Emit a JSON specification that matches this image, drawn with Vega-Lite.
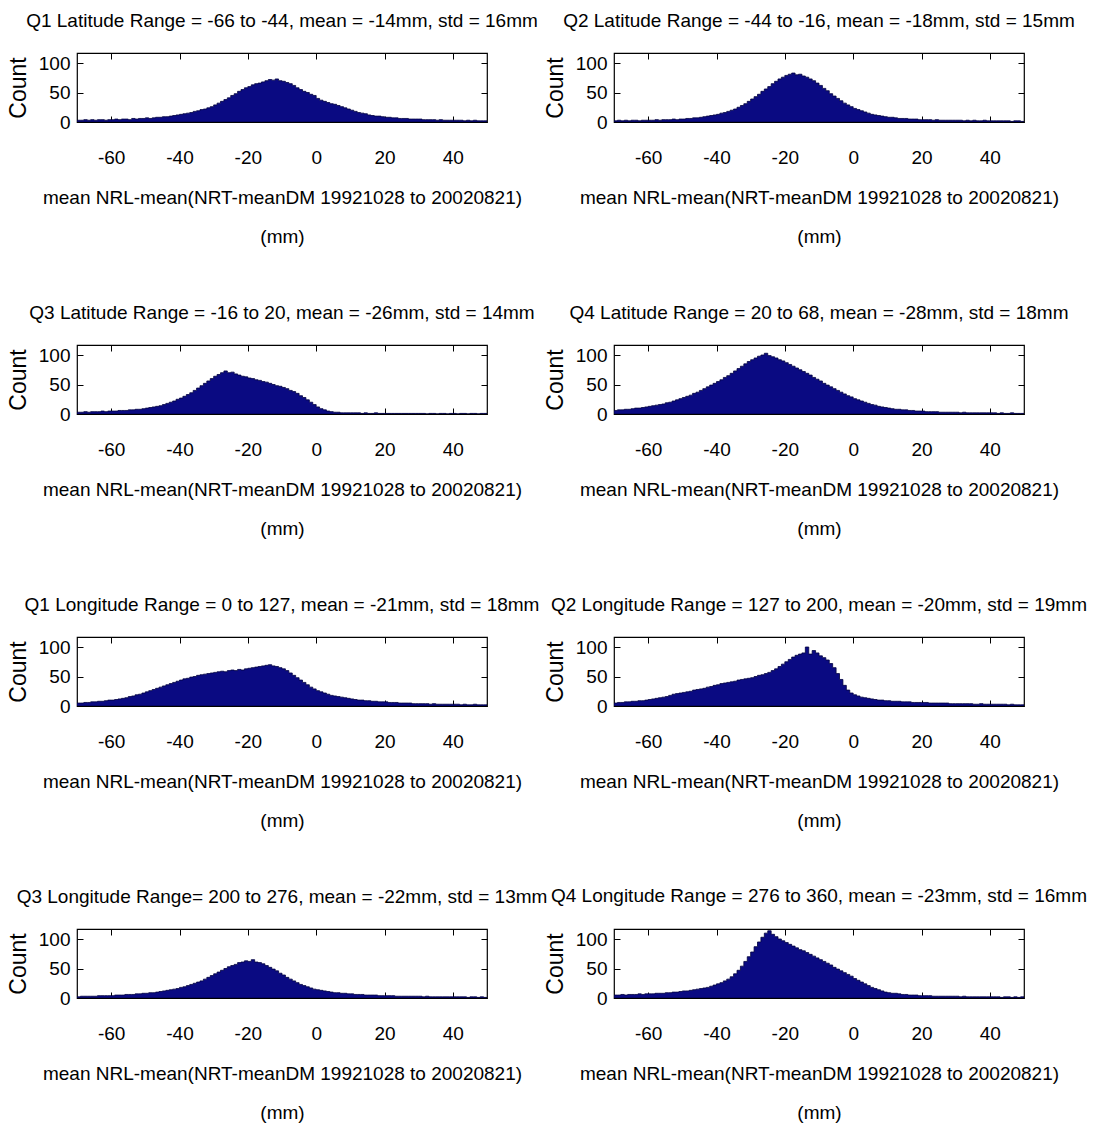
{
"$schema": "https://vega.github.io/schema/vega-lite/v6.json",
"background": "white",
"padding": {"left": 6, "top": 10, "right": 0, "bottom": 0},
"config": {
  "view": {"stroke": "black", "strokeWidth": 1.2},
  "title": {"fontSize": 19, "fontWeight": "normal", "font": "Liberation Sans", "color": "black", "offset": 22},
  "axis": {"grid": false, "domain": false, "labelFont": "Liberation Sans", "labelFontSize": 19, "labelColor": "black", "tickColor": "black", "tickSize": -6, "tickWidth": 1, "titleFont": "Liberation Sans", "titleFontSize": 19, "titleFontWeight": "normal", "titleColor": "black", "labelExpr": "'' + datum.value"},
  "axisX": {"labelPadding": 32, "titlePadding": 21, "titleLineHeight": 39},
  "axisY": {"labelPadding": 13, "titleFontSize": 23, "titlePadding": 8, "labelFlush": false}
},
"datasets": {"h": [
{"p":1,"x":-70,"c":3},{"p":1,"x":-69,"c":3},{"p":1,"x":-68,"c":4},{"p":1,"x":-67,"c":3},{"p":1,"x":-66,"c":4},{"p":1,"x":-65,"c":3},{"p":1,"x":-64,"c":4},{"p":1,"x":-63,"c":4},{"p":1,"x":-62,"c":3},{"p":1,"x":-61,"c":4},
{"p":1,"x":-60,"c":4},{"p":1,"x":-59,"c":5},{"p":1,"x":-58,"c":4},{"p":1,"x":-57,"c":5},{"p":1,"x":-56,"c":5},{"p":1,"x":-55,"c":4},{"p":1,"x":-54,"c":6},{"p":1,"x":-53,"c":5},{"p":1,"x":-52,"c":6},{"p":1,"x":-51,"c":6},
{"p":1,"x":-50,"c":7},{"p":1,"x":-49,"c":6},{"p":1,"x":-48,"c":7},{"p":1,"x":-47,"c":8},{"p":1,"x":-46,"c":8},{"p":1,"x":-45,"c":9},{"p":1,"x":-44,"c":9},{"p":1,"x":-43,"c":10},{"p":1,"x":-42,"c":11},{"p":1,"x":-41,"c":12},
{"p":1,"x":-40,"c":13},{"p":1,"x":-39,"c":14},{"p":1,"x":-38,"c":15},{"p":1,"x":-37,"c":16},{"p":1,"x":-36,"c":18},{"p":1,"x":-35,"c":19},{"p":1,"x":-34,"c":21},{"p":1,"x":-33,"c":22},{"p":1,"x":-32,"c":24},{"p":1,"x":-31,"c":26},
{"p":1,"x":-30,"c":29},{"p":1,"x":-29,"c":32},{"p":1,"x":-28,"c":35},{"p":1,"x":-27,"c":38},{"p":1,"x":-26,"c":41},{"p":1,"x":-25,"c":45},{"p":1,"x":-24,"c":48},{"p":1,"x":-23,"c":52},{"p":1,"x":-22,"c":55},{"p":1,"x":-21,"c":58},
{"p":1,"x":-20,"c":60},{"p":1,"x":-19,"c":63},{"p":1,"x":-18,"c":65},{"p":1,"x":-17,"c":66},{"p":1,"x":-16,"c":68},{"p":1,"x":-15,"c":70},{"p":1,"x":-14,"c":72},{"p":1,"x":-13,"c":71},{"p":1,"x":-12,"c":73},{"p":1,"x":-11,"c":70},
{"p":1,"x":-10,"c":69},{"p":1,"x":-9,"c":67},{"p":1,"x":-8,"c":65},{"p":1,"x":-7,"c":62},{"p":1,"x":-6,"c":58},{"p":1,"x":-5,"c":55},{"p":1,"x":-4,"c":52},{"p":1,"x":-3,"c":50},{"p":1,"x":-2,"c":47},{"p":1,"x":-1,"c":45},
{"p":1,"x":0,"c":40},{"p":1,"x":1,"c":37},{"p":1,"x":2,"c":35},{"p":1,"x":3,"c":33},{"p":1,"x":4,"c":31},{"p":1,"x":5,"c":30},{"p":1,"x":6,"c":28},{"p":1,"x":7,"c":26},{"p":1,"x":8,"c":24},{"p":1,"x":9,"c":22},
{"p":1,"x":10,"c":20},{"p":1,"x":11,"c":18},{"p":1,"x":12,"c":16},{"p":1,"x":13,"c":15},{"p":1,"x":14,"c":14},{"p":1,"x":15,"c":12},{"p":1,"x":16,"c":11},{"p":1,"x":17,"c":10},{"p":1,"x":18,"c":10},{"p":1,"x":19,"c":9},
{"p":1,"x":20,"c":8},{"p":1,"x":21,"c":8},{"p":1,"x":22,"c":7},{"p":1,"x":23,"c":7},{"p":1,"x":24,"c":6},{"p":1,"x":25,"c":6},{"p":1,"x":26,"c":6},{"p":1,"x":27,"c":5},{"p":1,"x":28,"c":5},{"p":1,"x":29,"c":5},
{"p":1,"x":30,"c":5},{"p":1,"x":31,"c":4},{"p":1,"x":32,"c":4},{"p":1,"x":33,"c":4},{"p":1,"x":34,"c":4},{"p":1,"x":35,"c":3},{"p":1,"x":36,"c":4},{"p":1,"x":37,"c":3},{"p":1,"x":38,"c":3},{"p":1,"x":39,"c":3},
{"p":1,"x":40,"c":3},{"p":1,"x":41,"c":3},{"p":1,"x":42,"c":3},{"p":1,"x":43,"c":2},{"p":1,"x":44,"c":3},{"p":1,"x":45,"c":2},{"p":1,"x":46,"c":3},{"p":1,"x":47,"c":2},{"p":1,"x":48,"c":2},{"p":1,"x":49,"c":2},{"p":1,"x":50,"c":2},

{"p":2,"x":-70,"c":2},{"p":2,"x":-69,"c":3},{"p":2,"x":-68,"c":2},{"p":2,"x":-67,"c":3},{"p":2,"x":-66,"c":2},{"p":2,"x":-65,"c":3},{"p":2,"x":-64,"c":3},{"p":2,"x":-63,"c":2},{"p":2,"x":-62,"c":3},{"p":2,"x":-61,"c":3},
{"p":2,"x":-60,"c":3},{"p":2,"x":-59,"c":3},{"p":2,"x":-58,"c":4},{"p":2,"x":-57,"c":3},{"p":2,"x":-56,"c":4},{"p":2,"x":-55,"c":4},{"p":2,"x":-54,"c":4},{"p":2,"x":-53,"c":5},{"p":2,"x":-52,"c":4},{"p":2,"x":-51,"c":5},
{"p":2,"x":-50,"c":5},{"p":2,"x":-49,"c":6},{"p":2,"x":-48,"c":6},{"p":2,"x":-47,"c":7},{"p":2,"x":-46,"c":7},{"p":2,"x":-45,"c":8},{"p":2,"x":-44,"c":9},{"p":2,"x":-43,"c":10},{"p":2,"x":-42,"c":11},{"p":2,"x":-41,"c":12},
{"p":2,"x":-40,"c":13},{"p":2,"x":-39,"c":15},{"p":2,"x":-38,"c":16},{"p":2,"x":-37,"c":18},{"p":2,"x":-36,"c":20},{"p":2,"x":-35,"c":22},{"p":2,"x":-34,"c":25},{"p":2,"x":-33,"c":28},{"p":2,"x":-32,"c":31},{"p":2,"x":-31,"c":35},
{"p":2,"x":-30,"c":39},{"p":2,"x":-29,"c":43},{"p":2,"x":-28,"c":47},{"p":2,"x":-27,"c":52},{"p":2,"x":-26,"c":56},{"p":2,"x":-25,"c":60},{"p":2,"x":-24,"c":65},{"p":2,"x":-23,"c":69},{"p":2,"x":-22,"c":73},{"p":2,"x":-21,"c":76},
{"p":2,"x":-20,"c":79},{"p":2,"x":-19,"c":81},{"p":2,"x":-18,"c":83},{"p":2,"x":-17,"c":80},{"p":2,"x":-16,"c":81},{"p":2,"x":-15,"c":78},{"p":2,"x":-14,"c":76},{"p":2,"x":-13,"c":73},{"p":2,"x":-12,"c":70},{"p":2,"x":-11,"c":66},
{"p":2,"x":-10,"c":62},{"p":2,"x":-9,"c":57},{"p":2,"x":-8,"c":53},{"p":2,"x":-7,"c":48},{"p":2,"x":-6,"c":44},{"p":2,"x":-5,"c":40},{"p":2,"x":-4,"c":36},{"p":2,"x":-3,"c":32},{"p":2,"x":-2,"c":29},{"p":2,"x":-1,"c":26},
{"p":2,"x":0,"c":23},{"p":2,"x":1,"c":21},{"p":2,"x":2,"c":19},{"p":2,"x":3,"c":17},{"p":2,"x":4,"c":15},{"p":2,"x":5,"c":13},{"p":2,"x":6,"c":12},{"p":2,"x":7,"c":11},{"p":2,"x":8,"c":10},{"p":2,"x":9,"c":9},
{"p":2,"x":10,"c":8},{"p":2,"x":11,"c":8},{"p":2,"x":12,"c":7},{"p":2,"x":13,"c":6},{"p":2,"x":14,"c":6},{"p":2,"x":15,"c":6},{"p":2,"x":16,"c":5},{"p":2,"x":17,"c":5},{"p":2,"x":18,"c":5},{"p":2,"x":19,"c":4},
{"p":2,"x":20,"c":4},{"p":2,"x":21,"c":4},{"p":2,"x":22,"c":4},{"p":2,"x":23,"c":3},{"p":2,"x":24,"c":4},{"p":2,"x":25,"c":3},{"p":2,"x":26,"c":3},{"p":2,"x":27,"c":3},{"p":2,"x":28,"c":3},{"p":2,"x":29,"c":3},
{"p":2,"x":30,"c":3},{"p":2,"x":31,"c":3},{"p":2,"x":32,"c":2},{"p":2,"x":33,"c":3},{"p":2,"x":34,"c":2},{"p":2,"x":35,"c":3},{"p":2,"x":36,"c":2},{"p":2,"x":37,"c":2},{"p":2,"x":38,"c":3},{"p":2,"x":39,"c":2},
{"p":2,"x":40,"c":2},{"p":2,"x":41,"c":2},{"p":2,"x":42,"c":2},{"p":2,"x":43,"c":2},{"p":2,"x":44,"c":2},{"p":2,"x":45,"c":2},{"p":2,"x":46,"c":1},{"p":2,"x":47,"c":2},{"p":2,"x":48,"c":2},{"p":2,"x":49,"c":1},{"p":2,"x":50,"c":1},

{"p":3,"x":-70,"c":3},{"p":3,"x":-69,"c":3},{"p":3,"x":-68,"c":4},{"p":3,"x":-67,"c":3},{"p":3,"x":-66,"c":4},{"p":3,"x":-65,"c":4},{"p":3,"x":-64,"c":4},{"p":3,"x":-63,"c":5},{"p":3,"x":-62,"c":4},{"p":3,"x":-61,"c":5},
{"p":3,"x":-60,"c":5},{"p":3,"x":-59,"c":5},{"p":3,"x":-58,"c":6},{"p":3,"x":-57,"c":6},{"p":3,"x":-56,"c":6},{"p":3,"x":-55,"c":7},{"p":3,"x":-54,"c":7},{"p":3,"x":-53,"c":8},{"p":3,"x":-52,"c":8},{"p":3,"x":-51,"c":9},
{"p":3,"x":-50,"c":10},{"p":3,"x":-49,"c":11},{"p":3,"x":-48,"c":12},{"p":3,"x":-47,"c":13},{"p":3,"x":-46,"c":14},{"p":3,"x":-45,"c":16},{"p":3,"x":-44,"c":18},{"p":3,"x":-43,"c":20},{"p":3,"x":-42,"c":22},{"p":3,"x":-41,"c":25},
{"p":3,"x":-40,"c":27},{"p":3,"x":-39,"c":30},{"p":3,"x":-38,"c":33},{"p":3,"x":-37,"c":36},{"p":3,"x":-36,"c":40},{"p":3,"x":-35,"c":44},{"p":3,"x":-34,"c":48},{"p":3,"x":-33,"c":52},{"p":3,"x":-32,"c":56},{"p":3,"x":-31,"c":60},
{"p":3,"x":-30,"c":64},{"p":3,"x":-29,"c":67},{"p":3,"x":-28,"c":70},{"p":3,"x":-27,"c":73},{"p":3,"x":-26,"c":70},{"p":3,"x":-25,"c":71},{"p":3,"x":-24,"c":68},{"p":3,"x":-23,"c":66},{"p":3,"x":-22,"c":64},{"p":3,"x":-21,"c":63},
{"p":3,"x":-20,"c":61},{"p":3,"x":-19,"c":60},{"p":3,"x":-18,"c":58},{"p":3,"x":-17,"c":57},{"p":3,"x":-16,"c":55},{"p":3,"x":-15,"c":54},{"p":3,"x":-14,"c":52},{"p":3,"x":-13,"c":50},{"p":3,"x":-12,"c":48},{"p":3,"x":-11,"c":47},
{"p":3,"x":-10,"c":45},{"p":3,"x":-9,"c":43},{"p":3,"x":-8,"c":40},{"p":3,"x":-7,"c":38},{"p":3,"x":-6,"c":35},{"p":3,"x":-5,"c":31},{"p":3,"x":-4,"c":28},{"p":3,"x":-3,"c":24},{"p":3,"x":-2,"c":20},{"p":3,"x":-1,"c":16},
{"p":3,"x":0,"c":12},{"p":3,"x":1,"c":9},{"p":3,"x":2,"c":7},{"p":3,"x":3,"c":5},{"p":3,"x":4,"c":4},{"p":3,"x":5,"c":3},{"p":3,"x":6,"c":3},{"p":3,"x":7,"c":2},{"p":3,"x":8,"c":2},{"p":3,"x":9,"c":2},
{"p":3,"x":10,"c":2},{"p":3,"x":11,"c":2},{"p":3,"x":12,"c":2},{"p":3,"x":13,"c":1},{"p":3,"x":14,"c":2},{"p":3,"x":15,"c":1},{"p":3,"x":16,"c":1},{"p":3,"x":17,"c":2},{"p":3,"x":18,"c":1},{"p":3,"x":19,"c":1},
{"p":3,"x":20,"c":1},{"p":3,"x":21,"c":1},{"p":3,"x":22,"c":1},{"p":3,"x":23,"c":1},{"p":3,"x":24,"c":1},{"p":3,"x":25,"c":1},{"p":3,"x":26,"c":1},{"p":3,"x":27,"c":1},{"p":3,"x":28,"c":1},{"p":3,"x":29,"c":1},
{"p":3,"x":30,"c":1},{"p":3,"x":31,"c":1},{"p":3,"x":32,"c":0},{"p":3,"x":33,"c":1},{"p":3,"x":34,"c":1},{"p":3,"x":35,"c":0},{"p":3,"x":36,"c":1},{"p":3,"x":37,"c":1},{"p":3,"x":38,"c":0},{"p":3,"x":39,"c":1},
{"p":3,"x":40,"c":1},{"p":3,"x":41,"c":0},{"p":3,"x":42,"c":1},{"p":3,"x":43,"c":1},{"p":3,"x":44,"c":0},{"p":3,"x":45,"c":1},{"p":3,"x":46,"c":1},{"p":3,"x":47,"c":0},{"p":3,"x":48,"c":1},{"p":3,"x":49,"c":1},{"p":3,"x":50,"c":1},

{"p":4,"x":-70,"c":6},{"p":4,"x":-69,"c":7},{"p":4,"x":-68,"c":7},{"p":4,"x":-67,"c":8},{"p":4,"x":-66,"c":8},{"p":4,"x":-65,"c":9},{"p":4,"x":-64,"c":10},{"p":4,"x":-63,"c":10},{"p":4,"x":-62,"c":11},{"p":4,"x":-61,"c":12},
{"p":4,"x":-60,"c":13},{"p":4,"x":-59,"c":14},{"p":4,"x":-58,"c":15},{"p":4,"x":-57,"c":16},{"p":4,"x":-56,"c":17},{"p":4,"x":-55,"c":19},{"p":4,"x":-54,"c":20},{"p":4,"x":-53,"c":22},{"p":4,"x":-52,"c":24},{"p":4,"x":-51,"c":26},
{"p":4,"x":-50,"c":28},{"p":4,"x":-49,"c":30},{"p":4,"x":-48,"c":32},{"p":4,"x":-47,"c":35},{"p":4,"x":-46,"c":37},{"p":4,"x":-45,"c":40},{"p":4,"x":-44,"c":43},{"p":4,"x":-43,"c":46},{"p":4,"x":-42,"c":49},{"p":4,"x":-41,"c":52},
{"p":4,"x":-40,"c":55},{"p":4,"x":-39,"c":58},{"p":4,"x":-38,"c":62},{"p":4,"x":-37,"c":65},{"p":4,"x":-36,"c":69},{"p":4,"x":-35,"c":73},{"p":4,"x":-34,"c":77},{"p":4,"x":-33,"c":81},{"p":4,"x":-32,"c":85},{"p":4,"x":-31,"c":89},
{"p":4,"x":-30,"c":92},{"p":4,"x":-29,"c":95},{"p":4,"x":-28,"c":98},{"p":4,"x":-27,"c":100},{"p":4,"x":-26,"c":103},{"p":4,"x":-25,"c":99},{"p":4,"x":-24,"c":97},{"p":4,"x":-23,"c":95},{"p":4,"x":-22,"c":92},{"p":4,"x":-21,"c":90},
{"p":4,"x":-20,"c":87},{"p":4,"x":-19,"c":84},{"p":4,"x":-18,"c":81},{"p":4,"x":-17,"c":78},{"p":4,"x":-16,"c":75},{"p":4,"x":-15,"c":72},{"p":4,"x":-14,"c":69},{"p":4,"x":-13,"c":66},{"p":4,"x":-12,"c":62},{"p":4,"x":-11,"c":59},
{"p":4,"x":-10,"c":56},{"p":4,"x":-9,"c":52},{"p":4,"x":-8,"c":49},{"p":4,"x":-7,"c":46},{"p":4,"x":-6,"c":43},{"p":4,"x":-5,"c":40},{"p":4,"x":-4,"c":37},{"p":4,"x":-3,"c":34},{"p":4,"x":-2,"c":31},{"p":4,"x":-1,"c":29},
{"p":4,"x":0,"c":26},{"p":4,"x":1,"c":24},{"p":4,"x":2,"c":22},{"p":4,"x":3,"c":20},{"p":4,"x":4,"c":18},{"p":4,"x":5,"c":16},{"p":4,"x":6,"c":15},{"p":4,"x":7,"c":13},{"p":4,"x":8,"c":12},{"p":4,"x":9,"c":11},
{"p":4,"x":10,"c":10},{"p":4,"x":11,"c":9},{"p":4,"x":12,"c":8},{"p":4,"x":13,"c":8},{"p":4,"x":14,"c":7},{"p":4,"x":15,"c":7},{"p":4,"x":16,"c":6},{"p":4,"x":17,"c":6},{"p":4,"x":18,"c":5},{"p":4,"x":19,"c":5},
{"p":4,"x":20,"c":5},{"p":4,"x":21,"c":4},{"p":4,"x":22,"c":4},{"p":4,"x":23,"c":4},{"p":4,"x":24,"c":4},{"p":4,"x":25,"c":3},{"p":4,"x":26,"c":3},{"p":4,"x":27,"c":3},{"p":4,"x":28,"c":3},{"p":4,"x":29,"c":3},
{"p":4,"x":30,"c":3},{"p":4,"x":31,"c":2},{"p":4,"x":32,"c":3},{"p":4,"x":33,"c":2},{"p":4,"x":34,"c":2},{"p":4,"x":35,"c":2},{"p":4,"x":36,"c":2},{"p":4,"x":37,"c":2},{"p":4,"x":38,"c":2},{"p":4,"x":39,"c":2},
{"p":4,"x":40,"c":2},{"p":4,"x":41,"c":2},{"p":4,"x":42,"c":1},{"p":4,"x":43,"c":2},{"p":4,"x":44,"c":1},{"p":4,"x":45,"c":1},{"p":4,"x":46,"c":2},{"p":4,"x":47,"c":1},{"p":4,"x":48,"c":1},{"p":4,"x":49,"c":1},{"p":4,"x":50,"c":1},

{"p":5,"x":-70,"c":5},{"p":5,"x":-69,"c":5},{"p":5,"x":-68,"c":6},{"p":5,"x":-67,"c":6},{"p":5,"x":-66,"c":7},{"p":5,"x":-65,"c":7},{"p":5,"x":-64,"c":8},{"p":5,"x":-63,"c":8},{"p":5,"x":-62,"c":9},{"p":5,"x":-61,"c":10},
{"p":5,"x":-60,"c":10},{"p":5,"x":-59,"c":11},{"p":5,"x":-58,"c":12},{"p":5,"x":-57,"c":13},{"p":5,"x":-56,"c":14},{"p":5,"x":-55,"c":16},{"p":5,"x":-54,"c":17},{"p":5,"x":-53,"c":19},{"p":5,"x":-52,"c":20},{"p":5,"x":-51,"c":22},
{"p":5,"x":-50,"c":24},{"p":5,"x":-49,"c":26},{"p":5,"x":-48,"c":28},{"p":5,"x":-47,"c":30},{"p":5,"x":-46,"c":32},{"p":5,"x":-45,"c":34},{"p":5,"x":-44,"c":36},{"p":5,"x":-43,"c":38},{"p":5,"x":-42,"c":40},{"p":5,"x":-41,"c":42},
{"p":5,"x":-40,"c":44},{"p":5,"x":-39,"c":46},{"p":5,"x":-38,"c":47},{"p":5,"x":-37,"c":49},{"p":5,"x":-36,"c":50},{"p":5,"x":-35,"c":52},{"p":5,"x":-34,"c":53},{"p":5,"x":-33,"c":54},{"p":5,"x":-32,"c":55},{"p":5,"x":-31,"c":56},
{"p":5,"x":-30,"c":57},{"p":5,"x":-29,"c":58},{"p":5,"x":-28,"c":59},{"p":5,"x":-27,"c":58},{"p":5,"x":-26,"c":60},{"p":5,"x":-25,"c":61},{"p":5,"x":-24,"c":60},{"p":5,"x":-23,"c":62},{"p":5,"x":-22,"c":61},{"p":5,"x":-21,"c":63},
{"p":5,"x":-20,"c":64},{"p":5,"x":-19,"c":65},{"p":5,"x":-18,"c":66},{"p":5,"x":-17,"c":67},{"p":5,"x":-16,"c":68},{"p":5,"x":-15,"c":69},{"p":5,"x":-14,"c":70},{"p":5,"x":-13,"c":68},{"p":5,"x":-12,"c":67},{"p":5,"x":-11,"c":65},
{"p":5,"x":-10,"c":63},{"p":5,"x":-9,"c":60},{"p":5,"x":-8,"c":56},{"p":5,"x":-7,"c":52},{"p":5,"x":-6,"c":48},{"p":5,"x":-5,"c":44},{"p":5,"x":-4,"c":40},{"p":5,"x":-3,"c":36},{"p":5,"x":-2,"c":32},{"p":5,"x":-1,"c":29},
{"p":5,"x":0,"c":26},{"p":5,"x":1,"c":24},{"p":5,"x":2,"c":22},{"p":5,"x":3,"c":20},{"p":5,"x":4,"c":18},{"p":5,"x":5,"c":17},{"p":5,"x":6,"c":16},{"p":5,"x":7,"c":15},{"p":5,"x":8,"c":14},{"p":5,"x":9,"c":13},
{"p":5,"x":10,"c":12},{"p":5,"x":11,"c":11},{"p":5,"x":12,"c":10},{"p":5,"x":13,"c":10},{"p":5,"x":14,"c":9},{"p":5,"x":15,"c":9},{"p":5,"x":16,"c":8},{"p":5,"x":17,"c":8},{"p":5,"x":18,"c":7},{"p":5,"x":19,"c":7},
{"p":5,"x":20,"c":7},{"p":5,"x":21,"c":6},{"p":5,"x":22,"c":6},{"p":5,"x":23,"c":6},{"p":5,"x":24,"c":5},{"p":5,"x":25,"c":5},{"p":5,"x":26,"c":5},{"p":5,"x":27,"c":5},{"p":5,"x":28,"c":4},{"p":5,"x":29,"c":4},
{"p":5,"x":30,"c":4},{"p":5,"x":31,"c":4},{"p":5,"x":32,"c":4},{"p":5,"x":33,"c":3},{"p":5,"x":34,"c":4},{"p":5,"x":35,"c":3},{"p":5,"x":36,"c":3},{"p":5,"x":37,"c":3},{"p":5,"x":38,"c":3},{"p":5,"x":39,"c":3},
{"p":5,"x":40,"c":3},{"p":5,"x":41,"c":3},{"p":5,"x":42,"c":2},{"p":5,"x":43,"c":3},{"p":5,"x":44,"c":2},{"p":5,"x":45,"c":2},{"p":5,"x":46,"c":3},{"p":5,"x":47,"c":2},{"p":5,"x":48,"c":2},{"p":5,"x":49,"c":2},{"p":5,"x":50,"c":2},

{"p":6,"x":-70,"c":5},{"p":6,"x":-69,"c":6},{"p":6,"x":-68,"c":6},{"p":6,"x":-67,"c":7},{"p":6,"x":-66,"c":7},{"p":6,"x":-65,"c":8},{"p":6,"x":-64,"c":8},{"p":6,"x":-63,"c":9},{"p":6,"x":-62,"c":9},{"p":6,"x":-61,"c":10},
{"p":6,"x":-60,"c":11},{"p":6,"x":-59,"c":12},{"p":6,"x":-58,"c":13},{"p":6,"x":-57,"c":14},{"p":6,"x":-56,"c":15},{"p":6,"x":-55,"c":16},{"p":6,"x":-54,"c":18},{"p":6,"x":-53,"c":20},{"p":6,"x":-52,"c":21},{"p":6,"x":-51,"c":22},
{"p":6,"x":-50,"c":23},{"p":6,"x":-49,"c":24},{"p":6,"x":-48,"c":25},{"p":6,"x":-47,"c":27},{"p":6,"x":-46,"c":28},{"p":6,"x":-45,"c":29},{"p":6,"x":-44,"c":30},{"p":6,"x":-43,"c":32},{"p":6,"x":-42,"c":33},{"p":6,"x":-41,"c":35},
{"p":6,"x":-40,"c":36},{"p":6,"x":-39,"c":38},{"p":6,"x":-38,"c":39},{"p":6,"x":-37,"c":40},{"p":6,"x":-36,"c":41},{"p":6,"x":-35,"c":42},{"p":6,"x":-34,"c":44},{"p":6,"x":-33,"c":45},{"p":6,"x":-32,"c":46},{"p":6,"x":-31,"c":47},
{"p":6,"x":-30,"c":48},{"p":6,"x":-29,"c":50},{"p":6,"x":-28,"c":52},{"p":6,"x":-27,"c":53},{"p":6,"x":-26,"c":55},{"p":6,"x":-25,"c":57},{"p":6,"x":-24,"c":60},{"p":6,"x":-23,"c":63},{"p":6,"x":-22,"c":67},{"p":6,"x":-21,"c":71},
{"p":6,"x":-20,"c":75},{"p":6,"x":-19,"c":79},{"p":6,"x":-18,"c":83},{"p":6,"x":-17,"c":86},{"p":6,"x":-16,"c":88},{"p":6,"x":-15,"c":90},{"p":6,"x":-14,"c":100},{"p":6,"x":-13,"c":88},{"p":6,"x":-12,"c":94},{"p":6,"x":-11,"c":90},
{"p":6,"x":-10,"c":85},{"p":6,"x":-9,"c":82},{"p":6,"x":-8,"c":78},{"p":6,"x":-7,"c":72},{"p":6,"x":-6,"c":65},{"p":6,"x":-5,"c":55},{"p":6,"x":-4,"c":45},{"p":6,"x":-3,"c":35},{"p":6,"x":-2,"c":27},{"p":6,"x":-1,"c":22},
{"p":6,"x":0,"c":19},{"p":6,"x":1,"c":17},{"p":6,"x":2,"c":15},{"p":6,"x":3,"c":14},{"p":6,"x":4,"c":13},{"p":6,"x":5,"c":12},{"p":6,"x":6,"c":11},{"p":6,"x":7,"c":10},{"p":6,"x":8,"c":10},{"p":6,"x":9,"c":9},
{"p":6,"x":10,"c":9},{"p":6,"x":11,"c":8},{"p":6,"x":12,"c":8},{"p":6,"x":13,"c":8},{"p":6,"x":14,"c":7},{"p":6,"x":15,"c":7},{"p":6,"x":16,"c":7},{"p":6,"x":17,"c":6},{"p":6,"x":18,"c":6},{"p":6,"x":19,"c":6},
{"p":6,"x":20,"c":6},{"p":6,"x":21,"c":6},{"p":6,"x":22,"c":5},{"p":6,"x":23,"c":5},{"p":6,"x":24,"c":5},{"p":6,"x":25,"c":5},{"p":6,"x":26,"c":5},{"p":6,"x":27,"c":5},{"p":6,"x":28,"c":4},{"p":6,"x":29,"c":4},
{"p":6,"x":30,"c":4},{"p":6,"x":31,"c":4},{"p":6,"x":32,"c":4},{"p":6,"x":33,"c":4},{"p":6,"x":34,"c":4},{"p":6,"x":35,"c":3},{"p":6,"x":36,"c":3},{"p":6,"x":37,"c":4},{"p":6,"x":38,"c":3},{"p":6,"x":39,"c":3},
{"p":6,"x":40,"c":3},{"p":6,"x":41,"c":3},{"p":6,"x":42,"c":3},{"p":6,"x":43,"c":3},{"p":6,"x":44,"c":3},{"p":6,"x":45,"c":2},{"p":6,"x":46,"c":3},{"p":6,"x":47,"c":2},{"p":6,"x":48,"c":2},{"p":6,"x":49,"c":2},{"p":6,"x":50,"c":2},

{"p":7,"x":-70,"c":2},{"p":7,"x":-69,"c":3},{"p":7,"x":-68,"c":3},{"p":7,"x":-67,"c":3},{"p":7,"x":-66,"c":3},{"p":7,"x":-65,"c":3},{"p":7,"x":-64,"c":4},{"p":7,"x":-63,"c":4},{"p":7,"x":-62,"c":4},{"p":7,"x":-61,"c":4},
{"p":7,"x":-60,"c":4},{"p":7,"x":-59,"c":5},{"p":7,"x":-58,"c":5},{"p":7,"x":-57,"c":5},{"p":7,"x":-56,"c":6},{"p":7,"x":-55,"c":6},{"p":7,"x":-54,"c":6},{"p":7,"x":-53,"c":7},{"p":7,"x":-52,"c":7},{"p":7,"x":-51,"c":8},
{"p":7,"x":-50,"c":8},{"p":7,"x":-49,"c":9},{"p":7,"x":-48,"c":9},{"p":7,"x":-47,"c":10},{"p":7,"x":-46,"c":11},{"p":7,"x":-45,"c":12},{"p":7,"x":-44,"c":13},{"p":7,"x":-43,"c":14},{"p":7,"x":-42,"c":15},{"p":7,"x":-41,"c":16},
{"p":7,"x":-40,"c":18},{"p":7,"x":-39,"c":19},{"p":7,"x":-38,"c":21},{"p":7,"x":-37,"c":23},{"p":7,"x":-36,"c":25},{"p":7,"x":-35,"c":27},{"p":7,"x":-34,"c":29},{"p":7,"x":-33,"c":32},{"p":7,"x":-32,"c":35},{"p":7,"x":-31,"c":38},
{"p":7,"x":-30,"c":41},{"p":7,"x":-29,"c":44},{"p":7,"x":-28,"c":47},{"p":7,"x":-27,"c":50},{"p":7,"x":-26,"c":53},{"p":7,"x":-25,"c":55},{"p":7,"x":-24,"c":57},{"p":7,"x":-23,"c":60},{"p":7,"x":-22,"c":61},{"p":7,"x":-21,"c":63},
{"p":7,"x":-20,"c":62},{"p":7,"x":-19,"c":65},{"p":7,"x":-18,"c":61},{"p":7,"x":-17,"c":60},{"p":7,"x":-16,"c":58},{"p":7,"x":-15,"c":55},{"p":7,"x":-14,"c":52},{"p":7,"x":-13,"c":49},{"p":7,"x":-12,"c":46},{"p":7,"x":-11,"c":42},
{"p":7,"x":-10,"c":39},{"p":7,"x":-9,"c":35},{"p":7,"x":-8,"c":32},{"p":7,"x":-7,"c":29},{"p":7,"x":-6,"c":26},{"p":7,"x":-5,"c":23},{"p":7,"x":-4,"c":21},{"p":7,"x":-3,"c":19},{"p":7,"x":-2,"c":17},{"p":7,"x":-1,"c":15},
{"p":7,"x":0,"c":14},{"p":7,"x":1,"c":13},{"p":7,"x":2,"c":12},{"p":7,"x":3,"c":11},{"p":7,"x":4,"c":10},{"p":7,"x":5,"c":9},{"p":7,"x":6,"c":9},{"p":7,"x":7,"c":8},{"p":7,"x":8,"c":8},{"p":7,"x":9,"c":7},
{"p":7,"x":10,"c":7},{"p":7,"x":11,"c":6},{"p":7,"x":12,"c":6},{"p":7,"x":13,"c":6},{"p":7,"x":14,"c":5},{"p":7,"x":15,"c":5},{"p":7,"x":16,"c":5},{"p":7,"x":17,"c":5},{"p":7,"x":18,"c":4},{"p":7,"x":19,"c":4},
{"p":7,"x":20,"c":4},{"p":7,"x":21,"c":4},{"p":7,"x":22,"c":4},{"p":7,"x":23,"c":3},{"p":7,"x":24,"c":3},{"p":7,"x":25,"c":3},{"p":7,"x":26,"c":3},{"p":7,"x":27,"c":3},{"p":7,"x":28,"c":3},{"p":7,"x":29,"c":3},
{"p":7,"x":30,"c":3},{"p":7,"x":31,"c":2},{"p":7,"x":32,"c":3},{"p":7,"x":33,"c":2},{"p":7,"x":34,"c":2},{"p":7,"x":35,"c":2},{"p":7,"x":36,"c":2},{"p":7,"x":37,"c":2},{"p":7,"x":38,"c":2},{"p":7,"x":39,"c":2},
{"p":7,"x":40,"c":2},{"p":7,"x":41,"c":2},{"p":7,"x":42,"c":2},{"p":7,"x":43,"c":2},{"p":7,"x":44,"c":1},{"p":7,"x":45,"c":2},{"p":7,"x":46,"c":2},{"p":7,"x":47,"c":1},{"p":7,"x":48,"c":2},{"p":7,"x":49,"c":1},{"p":7,"x":50,"c":1},

{"p":8,"x":-70,"c":5},{"p":8,"x":-69,"c":5},{"p":8,"x":-68,"c":6},{"p":8,"x":-67,"c":5},{"p":8,"x":-66,"c":6},{"p":8,"x":-65,"c":6},{"p":8,"x":-64,"c":6},{"p":8,"x":-63,"c":7},{"p":8,"x":-62,"c":6},{"p":8,"x":-61,"c":7},
{"p":8,"x":-60,"c":7},{"p":8,"x":-59,"c":7},{"p":8,"x":-58,"c":8},{"p":8,"x":-57,"c":8},{"p":8,"x":-56,"c":8},{"p":8,"x":-55,"c":9},{"p":8,"x":-54,"c":9},{"p":8,"x":-53,"c":10},{"p":8,"x":-52,"c":10},{"p":8,"x":-51,"c":11},
{"p":8,"x":-50,"c":12},{"p":8,"x":-49,"c":12},{"p":8,"x":-48,"c":13},{"p":8,"x":-47,"c":14},{"p":8,"x":-46,"c":15},{"p":8,"x":-45,"c":16},{"p":8,"x":-44,"c":17},{"p":8,"x":-43,"c":18},{"p":8,"x":-42,"c":20},{"p":8,"x":-41,"c":22},
{"p":8,"x":-40,"c":24},{"p":8,"x":-39,"c":26},{"p":8,"x":-38,"c":29},{"p":8,"x":-37,"c":32},{"p":8,"x":-36,"c":36},{"p":8,"x":-35,"c":41},{"p":8,"x":-34,"c":47},{"p":8,"x":-33,"c":54},{"p":8,"x":-32,"c":62},{"p":8,"x":-31,"c":70},
{"p":8,"x":-30,"c":78},{"p":8,"x":-29,"c":87},{"p":8,"x":-28,"c":95},{"p":8,"x":-27,"c":103},{"p":8,"x":-26,"c":110},{"p":8,"x":-25,"c":114},{"p":8,"x":-24,"c":108},{"p":8,"x":-23,"c":104},{"p":8,"x":-22,"c":100},{"p":8,"x":-21,"c":97},
{"p":8,"x":-20,"c":94},{"p":8,"x":-19,"c":91},{"p":8,"x":-18,"c":88},{"p":8,"x":-17,"c":85},{"p":8,"x":-16,"c":82},{"p":8,"x":-15,"c":80},{"p":8,"x":-14,"c":77},{"p":8,"x":-13,"c":74},{"p":8,"x":-12,"c":71},{"p":8,"x":-11,"c":68},
{"p":8,"x":-10,"c":65},{"p":8,"x":-9,"c":62},{"p":8,"x":-8,"c":59},{"p":8,"x":-7,"c":56},{"p":8,"x":-6,"c":52},{"p":8,"x":-5,"c":49},{"p":8,"x":-4,"c":46},{"p":8,"x":-3,"c":43},{"p":8,"x":-2,"c":40},{"p":8,"x":-1,"c":37},
{"p":8,"x":0,"c":33},{"p":8,"x":1,"c":30},{"p":8,"x":2,"c":27},{"p":8,"x":3,"c":24},{"p":8,"x":4,"c":21},{"p":8,"x":5,"c":18},{"p":8,"x":6,"c":16},{"p":8,"x":7,"c":14},{"p":8,"x":8,"c":12},{"p":8,"x":9,"c":10},
{"p":8,"x":10,"c":9},{"p":8,"x":11,"c":8},{"p":8,"x":12,"c":8},{"p":8,"x":13,"c":7},{"p":8,"x":14,"c":6},{"p":8,"x":15,"c":6},{"p":8,"x":16,"c":5},{"p":8,"x":17,"c":5},{"p":8,"x":18,"c":5},{"p":8,"x":19,"c":4},
{"p":8,"x":20,"c":4},{"p":8,"x":21,"c":4},{"p":8,"x":22,"c":4},{"p":8,"x":23,"c":3},{"p":8,"x":24,"c":3},{"p":8,"x":25,"c":3},{"p":8,"x":26,"c":3},{"p":8,"x":27,"c":3},{"p":8,"x":28,"c":3},{"p":8,"x":29,"c":3},
{"p":8,"x":30,"c":3},{"p":8,"x":31,"c":2},{"p":8,"x":32,"c":3},{"p":8,"x":33,"c":2},{"p":8,"x":34,"c":2},{"p":8,"x":35,"c":2},{"p":8,"x":36,"c":2},{"p":8,"x":37,"c":2},{"p":8,"x":38,"c":2},{"p":8,"x":39,"c":2},
{"p":8,"x":40,"c":2},{"p":8,"x":41,"c":2},{"p":8,"x":42,"c":2},{"p":8,"x":43,"c":1},{"p":8,"x":44,"c":2},{"p":8,"x":45,"c":2},{"p":8,"x":46,"c":1},{"p":8,"x":47,"c":2},{"p":8,"x":48,"c":1},{"p":8,"x":49,"c":2},{"p":8,"x":50,"c":2}
]},
"data": {"name": "h"},
"columns": 2,
"bounds": "flush",
"spacing": {"row": 223, "column": 127},
"concat": [
{"title": "Q1 Latitude Range = -66 to -44, mean = -14mm, std = 16mm", "width": 410, "height": 69, "transform": [{"filter": "datum.p == 1"}], "resolve": {"axis": {"x": "independent", "y": "independent"}}, "layer": [
 {"mark": {"type": "area", "interpolate": "step-after", "fill": "#0a0a82", "stroke": "#000040", "strokeWidth": 0.8, "clip": true}, "encoding": {"x": {"field": "x", "type": "quantitative", "scale": {"domain": [-70, 50], "nice": false, "zero": false}, "axis": {"values": [-60, -40, -20, 0, 20, 40], "title": ["mean NRL-mean(NRT-meanDM 19921028 to 20020821)", "(mm)"]}}, "y": {"field": "c", "type": "quantitative", "scale": {"domain": [0, 117], "nice": false}, "axis": {"values": [0, 50, 100], "title": "Count"}}}},
 {"mark": {"type": "point", "opacity": 0}, "encoding": {"x": {"field": "x", "type": "quantitative", "axis": {"orient": "top", "labels": false, "title": null, "values": [-60, -40, -20, 0, 20, 40]}}, "y": {"field": "c", "type": "quantitative", "axis": {"orient": "right", "labels": false, "title": null, "values": [0, 50, 100]}}}}
]},
{"title": "Q2 Latitude Range = -44 to -16, mean = -18mm, std = 15mm", "width": 410, "height": 69, "transform": [{"filter": "datum.p == 2"}], "resolve": {"axis": {"x": "independent", "y": "independent"}}, "layer": [
 {"mark": {"type": "area", "interpolate": "step-after", "fill": "#0a0a82", "stroke": "#000040", "strokeWidth": 0.8, "clip": true}, "encoding": {"x": {"field": "x", "type": "quantitative", "scale": {"domain": [-70, 50], "nice": false, "zero": false}, "axis": {"values": [-60, -40, -20, 0, 20, 40], "title": ["mean NRL-mean(NRT-meanDM 19921028 to 20020821)", "(mm)"]}}, "y": {"field": "c", "type": "quantitative", "scale": {"domain": [0, 117], "nice": false}, "axis": {"values": [0, 50, 100], "title": "Count"}}}},
 {"mark": {"type": "point", "opacity": 0}, "encoding": {"x": {"field": "x", "type": "quantitative", "axis": {"orient": "top", "labels": false, "title": null, "values": [-60, -40, -20, 0, 20, 40]}}, "y": {"field": "c", "type": "quantitative", "axis": {"orient": "right", "labels": false, "title": null, "values": [0, 50, 100]}}}}
]},
{"title": "Q3 Latitude Range = -16 to 20, mean = -26mm, std = 14mm", "width": 410, "height": 69, "transform": [{"filter": "datum.p == 3"}], "resolve": {"axis": {"x": "independent", "y": "independent"}}, "layer": [
 {"mark": {"type": "area", "interpolate": "step-after", "fill": "#0a0a82", "stroke": "#000040", "strokeWidth": 0.8, "clip": true}, "encoding": {"x": {"field": "x", "type": "quantitative", "scale": {"domain": [-70, 50], "nice": false, "zero": false}, "axis": {"values": [-60, -40, -20, 0, 20, 40], "title": ["mean NRL-mean(NRT-meanDM 19921028 to 20020821)", "(mm)"]}}, "y": {"field": "c", "type": "quantitative", "scale": {"domain": [0, 117], "nice": false}, "axis": {"values": [0, 50, 100], "title": "Count"}}}},
 {"mark": {"type": "point", "opacity": 0}, "encoding": {"x": {"field": "x", "type": "quantitative", "axis": {"orient": "top", "labels": false, "title": null, "values": [-60, -40, -20, 0, 20, 40]}}, "y": {"field": "c", "type": "quantitative", "axis": {"orient": "right", "labels": false, "title": null, "values": [0, 50, 100]}}}}
]},
{"title": "Q4 Latitude Range = 20 to 68, mean = -28mm, std = 18mm", "width": 410, "height": 69, "transform": [{"filter": "datum.p == 4"}], "resolve": {"axis": {"x": "independent", "y": "independent"}}, "layer": [
 {"mark": {"type": "area", "interpolate": "step-after", "fill": "#0a0a82", "stroke": "#000040", "strokeWidth": 0.8, "clip": true}, "encoding": {"x": {"field": "x", "type": "quantitative", "scale": {"domain": [-70, 50], "nice": false, "zero": false}, "axis": {"values": [-60, -40, -20, 0, 20, 40], "title": ["mean NRL-mean(NRT-meanDM 19921028 to 20020821)", "(mm)"]}}, "y": {"field": "c", "type": "quantitative", "scale": {"domain": [0, 117], "nice": false}, "axis": {"values": [0, 50, 100], "title": "Count"}}}},
 {"mark": {"type": "point", "opacity": 0}, "encoding": {"x": {"field": "x", "type": "quantitative", "axis": {"orient": "top", "labels": false, "title": null, "values": [-60, -40, -20, 0, 20, 40]}}, "y": {"field": "c", "type": "quantitative", "axis": {"orient": "right", "labels": false, "title": null, "values": [0, 50, 100]}}}}
]},
{"title": "Q1 Longitude Range = 0 to 127, mean = -21mm, std = 18mm", "width": 410, "height": 69, "transform": [{"filter": "datum.p == 5"}], "resolve": {"axis": {"x": "independent", "y": "independent"}}, "layer": [
 {"mark": {"type": "area", "interpolate": "step-after", "fill": "#0a0a82", "stroke": "#000040", "strokeWidth": 0.8, "clip": true}, "encoding": {"x": {"field": "x", "type": "quantitative", "scale": {"domain": [-70, 50], "nice": false, "zero": false}, "axis": {"values": [-60, -40, -20, 0, 20, 40], "title": ["mean NRL-mean(NRT-meanDM 19921028 to 20020821)", "(mm)"]}}, "y": {"field": "c", "type": "quantitative", "scale": {"domain": [0, 117], "nice": false}, "axis": {"values": [0, 50, 100], "title": "Count"}}}},
 {"mark": {"type": "point", "opacity": 0}, "encoding": {"x": {"field": "x", "type": "quantitative", "axis": {"orient": "top", "labels": false, "title": null, "values": [-60, -40, -20, 0, 20, 40]}}, "y": {"field": "c", "type": "quantitative", "axis": {"orient": "right", "labels": false, "title": null, "values": [0, 50, 100]}}}}
]},
{"title": "Q2 Longitude Range = 127 to 200, mean = -20mm, std = 19mm", "width": 410, "height": 69, "transform": [{"filter": "datum.p == 6"}], "resolve": {"axis": {"x": "independent", "y": "independent"}}, "layer": [
 {"mark": {"type": "area", "interpolate": "step-after", "fill": "#0a0a82", "stroke": "#000040", "strokeWidth": 0.8, "clip": true}, "encoding": {"x": {"field": "x", "type": "quantitative", "scale": {"domain": [-70, 50], "nice": false, "zero": false}, "axis": {"values": [-60, -40, -20, 0, 20, 40], "title": ["mean NRL-mean(NRT-meanDM 19921028 to 20020821)", "(mm)"]}}, "y": {"field": "c", "type": "quantitative", "scale": {"domain": [0, 117], "nice": false}, "axis": {"values": [0, 50, 100], "title": "Count"}}}},
 {"mark": {"type": "point", "opacity": 0}, "encoding": {"x": {"field": "x", "type": "quantitative", "axis": {"orient": "top", "labels": false, "title": null, "values": [-60, -40, -20, 0, 20, 40]}}, "y": {"field": "c", "type": "quantitative", "axis": {"orient": "right", "labels": false, "title": null, "values": [0, 50, 100]}}}}
]},
{"title": "Q3 Longitude Range= 200 to 276, mean = -22mm, std = 13mm", "width": 410, "height": 69, "transform": [{"filter": "datum.p == 7"}], "resolve": {"axis": {"x": "independent", "y": "independent"}}, "layer": [
 {"mark": {"type": "area", "interpolate": "step-after", "fill": "#0a0a82", "stroke": "#000040", "strokeWidth": 0.8, "clip": true}, "encoding": {"x": {"field": "x", "type": "quantitative", "scale": {"domain": [-70, 50], "nice": false, "zero": false}, "axis": {"values": [-60, -40, -20, 0, 20, 40], "title": ["mean NRL-mean(NRT-meanDM 19921028 to 20020821)", "(mm)"]}}, "y": {"field": "c", "type": "quantitative", "scale": {"domain": [0, 117], "nice": false}, "axis": {"values": [0, 50, 100], "title": "Count"}}}},
 {"mark": {"type": "point", "opacity": 0}, "encoding": {"x": {"field": "x", "type": "quantitative", "axis": {"orient": "top", "labels": false, "title": null, "values": [-60, -40, -20, 0, 20, 40]}}, "y": {"field": "c", "type": "quantitative", "axis": {"orient": "right", "labels": false, "title": null, "values": [0, 50, 100]}}}}
]},
{"title": "Q4 Longitude Range = 276 to 360, mean = -23mm, std = 16mm", "width": 410, "height": 69, "transform": [{"filter": "datum.p == 8"}], "resolve": {"axis": {"x": "independent", "y": "independent"}}, "layer": [
 {"mark": {"type": "area", "interpolate": "step-after", "fill": "#0a0a82", "stroke": "#000040", "strokeWidth": 0.8, "clip": true}, "encoding": {"x": {"field": "x", "type": "quantitative", "scale": {"domain": [-70, 50], "nice": false, "zero": false}, "axis": {"values": [-60, -40, -20, 0, 20, 40], "title": ["mean NRL-mean(NRT-meanDM 19921028 to 20020821)", "(mm)"]}}, "y": {"field": "c", "type": "quantitative", "scale": {"domain": [0, 117], "nice": false}, "axis": {"values": [0, 50, 100], "title": "Count"}}}},
 {"mark": {"type": "point", "opacity": 0}, "encoding": {"x": {"field": "x", "type": "quantitative", "axis": {"orient": "top", "labels": false, "title": null, "values": [-60, -40, -20, 0, 20, 40]}}, "y": {"field": "c", "type": "quantitative", "axis": {"orient": "right", "labels": false, "title": null, "values": [0, 50, 100]}}}}
]}
]
}
